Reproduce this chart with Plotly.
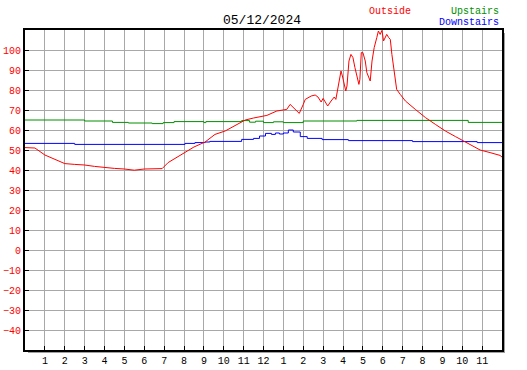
import plotly.graph_objects as go

# ---- data (hours since midnight, degrees F) ----
outside_hours = [0, 0.5, 1.0, 1.5, 2.0, 2.5, 3.0, 3.5, 4.0, 4.5, 5.0, 5.5, 6.0, 6.5, 6.9,
                 7.2, 7.6, 8.05, 8.5, 9.06, 9.56, 10.07, 10.6, 11.08, 11.5, 11.8, 12.17,
                 12.67, 13.17, 13.34, 13.68, 13.8, 14.0, 14.1, 14.4, 14.6, 14.74, 14.9,
                 15.0, 15.15, 15.23, 15.4, 15.56, 15.64, 15.72, 15.9, 15.97, 16.06, 16.14,
                 16.2, 16.3, 16.4, 16.5, 16.6, 16.7, 16.8, 16.85, 16.92, 17.0, 17.12, 17.2,
                 17.37, 17.46, 17.57, 17.7, 17.78, 17.87, 17.96, 18.04, 18.13, 18.2, 18.3,
                 18.38, 18.46, 18.6, 18.7, 18.88, 19.14, 19.64, 20.15, 20.65, 21.15, 21.66,
                 22.17, 22.67, 22.9, 23.4, 23.9, 24.0]
outside_temp = [51.2, 51.0, 47.5, 45.2, 43.2, 42.8, 42.5, 41.8, 41.2, 40.8, 40.5, 39.9, 40.5,
                40.6, 40.7, 43.7, 46.0, 48.7, 51.5, 54.0, 57.8, 59.5, 62.5, 65.0, 66.0, 66.7,
                67.3, 69.5, 70.3, 72.8, 69.5, 68.3, 72.8, 75.3, 77.0, 77.5, 76.5, 74.0, 75.8,
                73.7, 72.0, 74.5, 76.5, 75.3, 79.5, 89.5, 87.0, 83.7, 79.5, 82.0, 94.5, 97.8,
                96.2, 91.2, 86.2, 82.8, 85.3, 98.7, 98.7, 94.5, 88.7, 84.5, 94.5, 101.2,
                106.2, 109.5, 107.8, 109.8, 104.5, 106.2, 107.8, 106.2, 105.3, 97.8, 87.8,
                80.3, 77.8, 74.5, 70.3, 66.2, 62.8, 59.5, 56.7, 54.0, 51.2, 50.0, 48.7,
                47.3, 46.5]

upstairs_hours = [0, 3.0, 4.4, 5.2, 6.4, 6.95, 7.5, 9.0, 9.1, 10.9, 11.3, 11.6, 12.0, 12.5,
                  13.0, 14.0, 16.7, 22.3, 24.0]
upstairs_temp = [65.0, 64.5, 63.8, 63.5, 63.2, 63.7, 64.2, 63.7, 64.2, 64.7, 63.9, 64.4,
                 63.7, 64.1, 63.7, 64.5, 64.8, 63.8, 63.8]

downstairs_hours = [0, 2.5, 8.05, 8.55, 9.06, 9.3, 10.9, 11.5, 11.8, 12.1, 12.4, 12.6, 12.8,
                    13.0, 13.25, 13.5, 13.85, 14.2, 14.95, 16.27, 19.5, 22.75, 24.0]
downstairs_temp = [53.3, 52.8, 53.3, 53.7, 54.0, 54.3, 55.3, 55.8, 57.0, 58.3, 57.8, 58.5,
                   58.0, 58.5, 60.0, 59.0, 56.7, 55.8, 55.2, 54.7, 54.2, 53.7, 53.7]

hour_ticks = list(range(1, 24))
hour_labels = [str(h) for h in range(1, 12)] + ["12"] + [str(h) for h in range(1, 12)]
temp_ticks = list(range(-40, 101, 10))

title_text = "05/12/2024"

RED = "#ff0000"
GREEN = "#009000"
BLUE = "#0000ff"
MONO = "Liberation Mono"

fig = go.Figure()
fig.add_trace(go.Scatter(x=upstairs_hours, y=upstairs_temp, mode="lines",
                         line=dict(color=GREEN, width=1, shape="hv"), name="Upstairs"))
fig.add_trace(go.Scatter(x=downstairs_hours, y=downstairs_temp, mode="lines",
                         line=dict(color=BLUE, width=1, shape="hv"), name="Downstairs"))
fig.add_trace(go.Scatter(x=outside_hours, y=outside_temp, mode="lines",
                         line=dict(color=RED, width=1), name="Outside"))

W, H = 527, 370
ml, mr, mt, mb = 25, 25, 30, 20
pw, ph = W - ml - mr, H - mt - mb
dx, dy = 3 / pw, 3 / ph

fig.update_layout(
    width=W, height=H,
    margin=dict(l=ml, r=mr, t=mt, b=mb, autoexpand=False),
    paper_bgcolor="white", plot_bgcolor="white",
    showlegend=False,
    font=dict(family=MONO, size=10, color="black"),
    shapes=[
        dict(type="rect", xref="paper", yref="paper", x0=dx, x1=1 + dx, y0=-dy, y1=1 - dy,
             fillcolor="#a0a0a0", line=dict(width=0), layer="below"),
        dict(type="rect", xref="paper", yref="paper", x0=0, x1=1, y0=0, y1=1,
             fillcolor="white", line=dict(width=0), layer="below"),
    ],
    annotations=[
        dict(text=title_text, xref="paper", yref="paper", x=(262 - ml) / pw, y=1 + 10 / ph,
             xanchor="center", yanchor="middle", showarrow=False,
             font=dict(family=MONO, size=13, color="black")),
        dict(text="Outside", xref="paper", yref="paper", x=(390 - ml) / pw, y=1 + 19 / ph,
             xanchor="center", yanchor="middle", showarrow=False,
             font=dict(family=MONO, size=10, color=RED)),
        dict(text="Upstairs", xref="paper", yref="paper", x=(501 - ml) / pw, y=1 + 19 / ph,
             xanchor="right", yanchor="middle", showarrow=False,
             font=dict(family=MONO, size=10, color=GREEN)),
        dict(text="Downstairs", xref="paper", yref="paper", x=(501 - ml) / pw, y=1 + 7 / ph,
             xanchor="right", yanchor="middle", showarrow=False,
             font=dict(family=MONO, size=10, color=BLUE)),
    ],
)

fig.update_xaxes(range=[0, 24], tickvals=hour_ticks, ticktext=hour_labels,
                 showgrid=True, gridcolor="#a8a8a8", gridwidth=1, zeroline=False,
                 ticks="inside", ticklen=4, tickcolor="black", tickwidth=1,
                 showline=True, linecolor="black", linewidth=2, mirror=True,
                 automargin=False,
                 tickfont=dict(family=MONO, size=10, color="black"), fixedrange=True)
fig.update_yaxes(range=[-50, 110], tickvals=temp_ticks,
                 showgrid=True, gridcolor="#a8a8a8", gridwidth=1, zeroline=False,
                 ticks="inside", ticklen=4, tickcolor="black", tickwidth=1,
                 showline=True, linecolor="black", linewidth=2, mirror=True,
                 automargin=False,
                 tickfont=dict(family=MONO, size=10, color=RED), fixedrange=True)

fig.write_html("out.html", config={"displayModeBar": False},
               post_script="document.body.style.margin='0';document.body.style.overflow='hidden';")
